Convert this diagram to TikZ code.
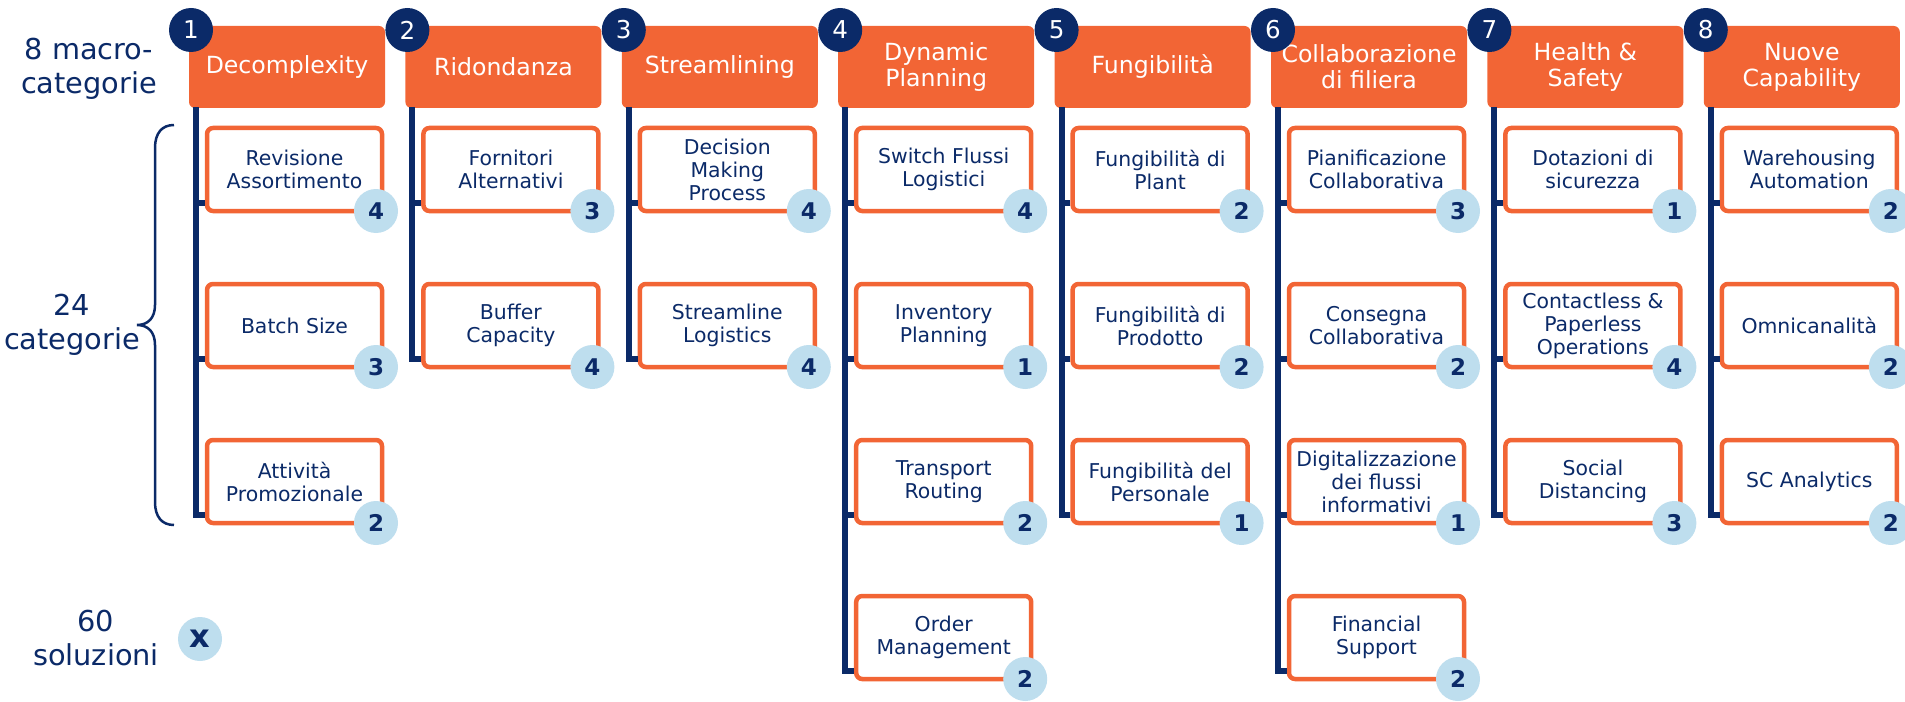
\documentclass[tikz,border=0pt]{standalone}
\usepackage{fontspec}
\setmainfont{DejaVu Sans}
\usetikzlibrary{calc}
\definecolor{orng}{HTML}{F26535}
\definecolor{navy}{HTML}{0B2A68}
\definecolor{lblue}{HTML}{BEDEEE}
\tikzset{
  hdr/.style={fill=orng, rounded corners=3pt, minimum width=98pt, minimum height=41pt,
    text=white, align=center, inner sep=0pt, font=\fontsize{11.8}{13}\selectfont},
  numc/.style={circle, fill=navy, minimum size=22pt, inner sep=0pt, text=white,
    font=\fontsize{12.3}{12}\selectfont},
  catb/.style={draw=orng, line width=2.25pt, rounded corners=3pt, fill=white,
    minimum width=87.5pt, minimum height=41.5pt, align=center, inner sep=0pt,
    text=navy, font=\fontsize{10.2}{11.5}\selectfont},
  badge/.style={circle, fill=lblue, minimum size=22pt, inner sep=0pt, text=navy,
    font=\bfseries\fontsize{11.5}{12}\selectfont},
  spine/.style={draw=navy, line width=3pt, line cap=butt, line join=miter},
  side/.style={text=navy, align=center, font=\fontsize{14.4}{17}\selectfont},
}
\newcommand\header[2]{%
  \pgfmathsetmacro\hxv{189+216.4*(#1-1)}%
  \node[hdr] (h#1) at (\hxv+98,67) {#2};
  \node[numc] (n#1) at (\hxv+2,30) {#1};
  \coordinate (s#1) at (\hxv+7,107);
  \coordinate (t#1) at (\hxv+9,107);
}
\newcommand\cat[4]{%
  \pgfmathsetmacro\hxv{189+216.4*(#1-1)}%
  \pgfmathsetmacro\yv{169.5+156*(#2-1)}%
  \node[catb] (c#1r#2) at (\hxv+105.5,\yv) {#3};
  \coordinate (j#1r#2) at ($(c#1r#2.south west)+(0,-10)$);
  \draw[spine] (t#1 |- j#1r#2) -- (j#1r#2);
  \node[badge] (b#1r#2) at (\hxv+187,\yv+41.5) {#4};
}
\newcommand\spine[2]{%
  \draw[spine] (s#1) |- (j#1r#2);
}
\begin{document}
\begin{tikzpicture}[x=0.5pt,y=-0.5pt]
\useasboundingbox (0,0) rectangle (1905,701);
% left labels
\node[side] (lab1) at (89,69) {8 macro-\\categorie};
\node[side] (lab2) at (72,325) {24\\categorie};
\node[side] (lab3) at (96,638) {60\\soluzioni};
\node[badge, font=\bfseries\fontsize{16}{16}\selectfont] (bx) at (200,639) {x};
\draw[navy, line width=1.25pt] (174,125) .. controls (162,125) and (155,133) .. (155,148)
  -- (155,305) .. controls (155,318) and (148,325) .. (137,325)
  .. controls (148,325) and (155,332) .. (155,345)
  -- (155,502) .. controls (155,517) and (162,525) .. (174,525);
% headers
\header{1}{Decomplexity}
\header{2}{Ridondanza}
\header{3}{Streamlining}
\header{4}{Dynamic\\Planning}
\header{5}{Fungibilità}
\header{6}{Collaborazione\\di filiera}
\header{7}{Health \&\\Safety}
\header{8}{Nuove\\Capability}
% column 1
\cat{1}{1}{Revisione\\Assortimento}{4}
\cat{1}{2}{Batch Size}{3}
\cat{1}{3}{Attività\\Promozionale}{2}
\spine{1}{3}
% column 2
\cat{2}{1}{Fornitori\\Alternativi}{3}
\cat{2}{2}{Buffer\\Capacity}{4}
\spine{2}{2}
% column 3
\cat{3}{1}{Decision\\Making\\Process}{4}
\cat{3}{2}{Streamline\\Logistics}{4}
\spine{3}{2}
% column 4
\cat{4}{1}{Switch Flussi\\Logistici}{4}
\cat{4}{2}{Inventory\\Planning}{1}
\cat{4}{3}{Transport\\Routing}{2}
\cat{4}{4}{Order\\Management}{2}
\spine{4}{4}
% column 5
\cat{5}{1}{Fungibilità di\\Plant}{2}
\cat{5}{2}{Fungibilità di\\Prodotto}{2}
\cat{5}{3}{Fungibilità del\\Personale}{1}
\spine{5}{3}
% column 6
\cat{6}{1}{Pianificazione\\Collaborativa}{3}
\cat{6}{2}{Consegna\\Collaborativa}{2}
\cat{6}{3}{Digitalizzazione\\dei flussi\\informativi}{1}
\cat{6}{4}{Financial\\Support}{2}
\spine{6}{4}
% column 7
\cat{7}{1}{Dotazioni di\\sicurezza}{1}
\cat{7}{2}{Contactless \&\\Paperless\\Operations}{4}
\cat{7}{3}{Social\\Distancing}{3}
\spine{7}{3}
% column 8
\cat{8}{1}{Warehousing\\Automation}{2}
\cat{8}{2}{Omnicanalità}{2}
\cat{8}{3}{SC Analytics}{2}
\spine{8}{3}
\end{tikzpicture}
\end{document}
